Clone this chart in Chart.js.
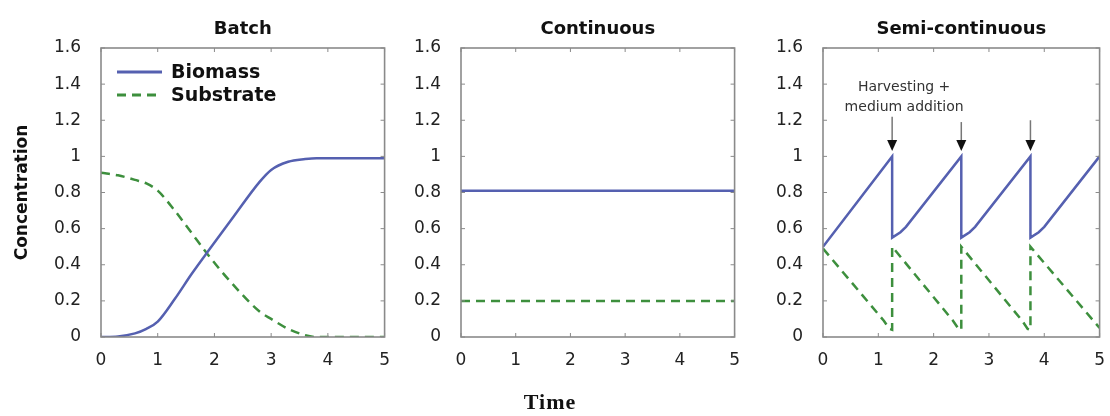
<!DOCTYPE html>
<html>
<head>
<meta charset="utf-8">
<script src="https://cdn.jsdelivr.net/npm/chart.js@4/dist/chart.umd.min.js"></script>
<style>
  body { margin: 0; background: #fff; }
  .panel { position: absolute; top: 0; height: 416px; }
  #timeLabel {
    position: absolute; left: 450px; width: 200px; top: 391px;
    text-align: center; font: bold 22px "Liberation Serif", serif; line-height: 1;
    letter-spacing: 1px; color: #111;
  }
</style>
</head>
<body>
<div class="panel" style="left:0;width:395px"><canvas id="batchChart"></canvas></div>
<div class="panel" style="left:395px;width:350px"><canvas id="contChart"></canvas></div>
<div class="panel" style="left:745px;width:365px"><canvas id="semiChart"></canvas></div>
<div id="timeLabel">Time</div>

<script>
// batch culture
const batchTime      = [0, 0.3, 0.6, 0.8, 1.0, 1.3, 1.6, 1.9, 2.3, 2.8, 3.0, 3.3, 3.6, 3.8, 4.2, 5];
const batchBiomass   = [0, 0.003, 0.02, 0.045, 0.085, 0.21, 0.35, 0.48, 0.65, 0.86, 0.925, 0.97, 0.985, 0.99, 0.99, 0.99];
const batchSubstrate = [0.91, 0.895, 0.87, 0.85, 0.81, 0.70, 0.575, 0.45, 0.30, 0.14, 0.10, 0.045, 0.01, 0, 0, 0];

// continuous culture
const contTime      = [0, 5];
const contBiomass   = [0.81, 0.81];
const contSubstrate = [0.2, 0.2];

// semi-continuous culture
const semiTime      = [0, 1.25, 1.25, 1.4, 1.5, 2.5, 2.5, 2.65, 2.75, 3.75, 3.75, 3.9, 4.0, 5];
const semiBiomass   = [0.5, 1.0, 0.55, 0.58, 0.61, 1.0, 0.55, 0.58, 0.61, 1.0, 0.55, 0.58, 0.61, 1.0];
const semiSubTime   = [0, 1.1, 1.2, 1.25, 1.25, 2.35, 2.45, 2.5, 2.5, 3.6, 3.7, 3.75, 3.75, 5];
const semiSubstrate = [0.49, 0.09, 0.045, 0.04, 0.5, 0.09, 0.045, 0.04, 0.5, 0.09, 0.045, 0.04, 0.5, 0.05];
const harvestTimes  = [1.25, 2.5, 3.75];
const harvestTail   = [1.22, 1.19, 1.2];
const harvestTip    = 1.03;

const xTicks = [0, 1, 2, 3, 4, 5];
const yMax = 1.6;

const BLUE = '#5560b0';
const GREEN = '#3d8f3d';
const FRAME = '#8a8a8a';
const FONT = '"DejaVu Sans", sans-serif';

function points(xs, ys) {
    return xs.map((x, i) => ({ x, y: ys[i] }));
}

function series(label, xs, ys, dashed, smooth) {
    return {
        label,
        data: points(xs, ys),
        borderColor: dashed ? GREEN : BLUE,
        borderWidth: 2.5,
        borderDash: dashed ? [9, 6] : [],
        pointRadius: 0,
        tension: smooth ? 0.4 : 0,
        cubicInterpolationMode: smooth ? 'monotone' : 'default',
        fill: false
    };
}

// box around the plot area with small inward tick marks on every side
const frameTicks = {
    id: 'frameTicks',
    afterDatasetsDraw(chart) {
        const { ctx, chartArea: a, scales: { x, y } } = chart;
        ctx.save();
        ctx.strokeStyle = FRAME;
        ctx.lineWidth = 1;
        ctx.beginPath();
        x.ticks.forEach(t => {
            const px = x.getPixelForValue(t.value);
            ctx.moveTo(px, a.bottom); ctx.lineTo(px, a.bottom - 4);
            ctx.moveTo(px, a.top); ctx.lineTo(px, a.top + 4);
        });
        y.ticks.forEach(t => {
            const py = y.getPixelForValue(t.value);
            ctx.moveTo(a.left, py); ctx.lineTo(a.left + 4, py);
            ctx.moveTo(a.right, py); ctx.lineTo(a.right - 4, py);
        });
        ctx.stroke();
        ctx.lineWidth = 1.6;
        ctx.strokeRect(a.left, a.top, a.width, a.height);
        ctx.restore();
    }
};

// legend drawn inside the top-left corner of the plot
const insideLegend = {
    id: 'insideLegend',
    afterDraw(chart, args, opts) {
        if (!opts.display) return;
        const { ctx, chartArea: a } = chart;
        ctx.save();
        ctx.font = 'bold 19px ' + FONT;
        ctx.textBaseline = 'middle';
        ctx.fillStyle = '#111';
        chart.data.datasets.forEach((ds, i) => {
            const y = a.top + 24 + i * 23;
            const x0 = a.left + 16;
            ctx.strokeStyle = ds.borderColor;
            ctx.lineWidth = ds.borderWidth + 0.5;
            ctx.setLineDash(ds.borderDash);
            ctx.beginPath();
            ctx.moveTo(x0, y); ctx.lineTo(x0 + 45, y);
            ctx.stroke();
            ctx.setLineDash([]);
            ctx.fillText(ds.label, x0 + 54, y + 1);
        });
        ctx.restore();
    }
};

// harvest arrows for the semi-continuous panel
const harvestArrows = {
    id: 'harvestArrows',
    afterDatasetsDraw(chart, args, opts) {
        if (!opts.display) return;
        const { ctx, scales: { x, y } } = chart;
        ctx.save();
        const tipY = y.getPixelForValue(harvestTip);
        harvestTimes.forEach((t, i) => {
            const px = x.getPixelForValue(t);
            const tailY = y.getPixelForValue(harvestTail[i]);
            ctx.strokeStyle = '#777';
            ctx.lineWidth = 1.5;
            ctx.beginPath();
            ctx.moveTo(px, tailY); ctx.lineTo(px, tipY - 10);
            ctx.stroke();
            ctx.fillStyle = '#111';
            ctx.beginPath();
            ctx.moveTo(px - 5, tipY - 11);
            ctx.lineTo(px + 5, tipY - 11);
            ctx.lineTo(px, tipY);
            ctx.closePath();
            ctx.fill();
        });
        const cx = x.getPixelForValue(harvestTimes[0]) + 12;
        const top = y.getPixelForValue(1.4);
        ctx.fillStyle = '#333';
        ctx.font = '14px ' + FONT;
        ctx.textAlign = 'center';
        ctx.textBaseline = 'middle';
        ctx.fillText('Harvesting +', cx, top + 3);
        ctx.fillText('medium addition', cx, top + 23);
        ctx.restore();
    }
};

function makeChart(id, title, datasets, plotLeft, opts = {}) {
    return new Chart(document.getElementById(id), {
        type: 'line',
        data: { datasets },
        plugins: [frameTicks, insideLegend, harvestArrows],
        options: {
            responsive: true,
            maintainAspectRatio: false,
            animation: false,
            layout: { padding: { left: 0, right: opts.padRight || 10, top: 0, bottom: 0 } },
            scales: {
                x: {
                    type: 'linear',
                    min: 0, max: 5,
                    afterBuildTicks: s => { s.ticks = xTicks.map(v => ({ value: v })); },
                    afterFit: s => { s.height = 79; },
                    grid: { display: false },
                    border: { display: false },
                    ticks: { color: '#222', padding: 5, font: { family: FONT, size: 17 } }
                },
                y: {
                    min: 0, max: yMax,
                    afterFit: s => { s.width = plotLeft; },
                    grid: { display: false },
                    border: { display: false },
                    ticks: {
                        stepSize: 0.2, color: '#222', padding: 12,
                        font: { family: FONT, size: 17 },
                        callback: v => String(+v.toFixed(1))
                    },
                    title: {
                        display: !!opts.yTitle,
                        text: opts.yTitle || '',
                        color: '#111',
                        padding: { top: 12, bottom: 0 },
                        font: { family: FONT, size: 17, weight: 'bold' }
                    }
                }
            },
            plugins: {
                legend: { display: false },
                tooltip: { enabled: false },
                title: {
                    display: true,
                    text: title,
                    fullSize: false,
                    color: '#111',
                    padding: { top: 19, bottom: 7.4 },
                    font: { family: FONT, size: 18, weight: 'bold' }
                },
                insideLegend: { display: !!opts.legend },
                harvestArrows: { display: !!opts.arrows }
            }
        }
    });
}

makeChart('batchChart', 'Batch', [
    series('Biomass', batchTime, batchBiomass, false, true),
    series('Substrate', batchTime, batchSubstrate, true, true)
], 101, { yTitle: 'Concentration', legend: true, padRight: 10 });

makeChart('contChart', 'Continuous', [
    series('Biomass', contTime, contBiomass, false, false),
    series('Substrate', contTime, contSubstrate, true, false)
], 66, { padRight: 8 });

makeChart('semiChart', 'Semi-continuous', [
    series('Biomass', semiTime, semiBiomass, false, false),
    series('Substrate', semiSubTime, semiSubstrate, true, false)
], 78, { arrows: true, padRight: 10 });
</script>
</body>
</html>
